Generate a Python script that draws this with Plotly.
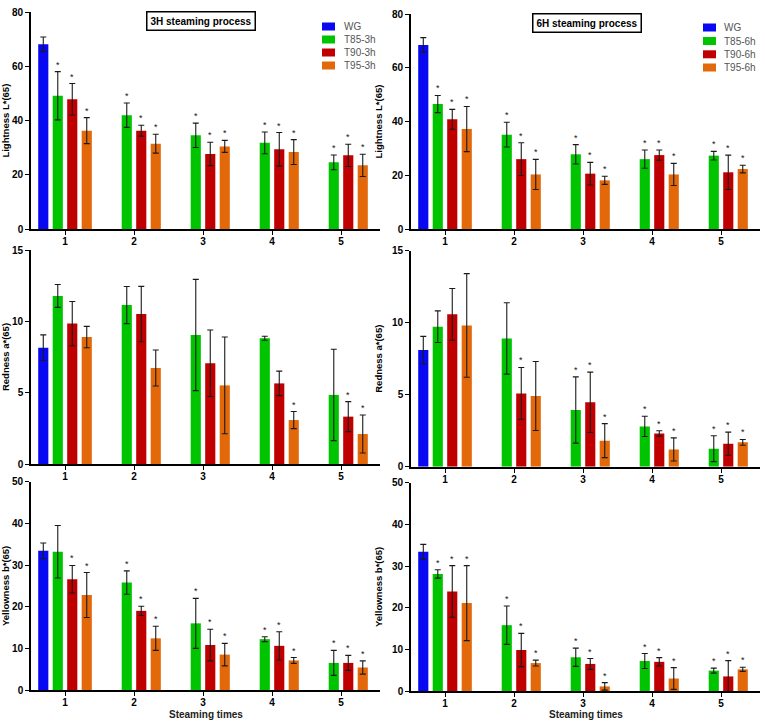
import plotly.graph_objects as go

# ---------------- data ----------------
steaming_times = [1, 2, 3, 4, 5]
tick_labels = ["1", "2", "3", "4", "5"]

# WG (raw material) only at steaming time 1
wg_L = [68.2]
wg_L_err = [2.7]
wg_L6 = [68.5]
wg_L6_err = [2.7]
wg_a = [8.15]
wg_a_err = [0.9]
wg_a6 = [8.1]
wg_a6_err = [0.95]
wg_b = [33.4]
wg_b_err = [1.9]
wg_b6 = [33.4]
wg_b6_err = [1.8]

# 3H Lightness L*
L3_T85 = [49.2, 42.0, 34.6, 31.8, 24.6]
L3_T85_err = [8.9, 4.5, 4.5, 4.0, 2.7]
L3_T90 = [47.9, 36.3, 27.7, 29.4, 27.2]
L3_T90_err = [5.8, 2.0, 4.3, 6.2, 4.1]
L3_T95 = [36.3, 31.5, 30.5, 28.4, 23.5]
L3_T95_err = [4.8, 3.5, 2.2, 4.6, 4.1]
L3_T85_sig = [1, 1, 1, 1, 1]
L3_T90_sig = [1, 1, 1, 1, 1]
L3_T95_sig = [1, 1, 1, 1, 1]

# 6H Lightness L*
L6_T85 = [46.5, 35.1, 27.8, 26.0, 27.3]
L6_T85_err = [3.2, 4.6, 3.6, 3.4, 1.6]
L6_T90 = [40.8, 26.0, 20.6, 27.5, 21.1]
L6_T90_err = [3.7, 6.1, 4.2, 1.9, 6.4]
L6_T95 = [37.2, 20.3, 18.1, 20.3, 22.3]
L6_T95_err = [8.4, 5.6, 1.5, 4.1, 1.4]
L6_T85_sig = [1, 1, 1, 1, 1]
L6_T90_sig = [1, 1, 1, 1, 1]
L6_T95_sig = [1, 1, 1, 1, 1]

# 3H Redness a*
a3_T85 = [11.78, 11.14, 9.04, 8.81, 4.84]
a3_T85_err = [0.8, 1.3, 3.9, 0.14, 3.2]
a3_T90 = [9.84, 10.51, 7.06, 5.65, 3.32]
a3_T90_err = [1.55, 1.94, 2.33, 0.86, 1.05]
a3_T95 = [8.9, 6.73, 5.51, 3.08, 2.1]
a3_T95_err = [0.75, 1.26, 3.39, 0.6, 1.33]
a3_T85_sig = [0, 0, 0, 0, 0]
a3_T90_sig = [0, 0, 0, 0, 1]
a3_T95_sig = [0, 0, 0, 1, 1]

# 6H Redness a*
a6_T85 = [9.72, 8.91, 3.94, 2.8, 1.25]
a6_T85_err = [1.1, 2.48, 2.3, 0.7, 0.9]
a6_T90 = [10.58, 5.09, 4.47, 2.31, 1.6]
a6_T90_err = [1.8, 1.8, 2.1, 0.19, 0.8]
a6_T95 = [9.81, 4.91, 1.81, 1.2, 1.69]
a6_T95_err = [3.6, 2.4, 1.18, 0.8, 0.2]
a6_T85_sig = [0, 0, 1, 1, 1]
a6_T90_sig = [0, 1, 1, 1, 1]
a6_T95_sig = [0, 0, 1, 1, 1]

# 3H Yellowness b*
b3_T85 = [33.2, 25.8, 16.0, 12.2, 6.5]
b3_T85_err = [6.3, 2.8, 6.0, 0.6, 3.0]
b3_T90 = [26.6, 19.0, 10.8, 10.6, 6.5]
b3_T90_err = [3.3, 1.1, 3.8, 3.4, 1.8]
b3_T95 = [22.8, 12.4, 8.5, 7.1, 5.4]
b3_T95_err = [5.4, 2.9, 2.7, 0.7, 1.6]
b3_T85_sig = [0, 1, 1, 1, 1]
b3_T90_sig = [1, 1, 1, 1, 1]
b3_T95_sig = [1, 1, 1, 1, 1]

# 6H Yellowness b*
b6_T85 = [28.1, 15.8, 8.1, 7.2, 4.9]
b6_T85_err = [1.0, 4.6, 2.2, 1.8, 0.6]
b6_T90 = [23.9, 9.84, 6.5, 7.0, 3.5]
b6_T90_err = [6.2, 4.0, 1.3, 1.0, 3.8]
b6_T95 = [21.1, 6.7, 1.1, 3.0, 5.2]
b6_T95_err = [9.0, 0.7, 0.9, 2.6, 0.5]
b6_T85_sig = [1, 1, 1, 1, 1]
b6_T90_sig = [1, 1, 1, 1, 1]
b6_T95_sig = [1, 1, 1, 1, 1]

panel_titles = ["3H steaming process", "6H steaming process"]
y_titles = ["Lightness L*(65)", "Redness a*(65)", "Yellowness b*(65)"]
y_ranges = [80, 15, 50]
y_dticks = [20, 5, 10]
x_title = "Steaming times"
names_3h = ["WG", "T85-3h", "T90-3h", "T95-3h"]
names_6h = ["WG", "T85-6h", "T90-6h", "T95-6h"]

# ---------------- styling ----------------
COLORS = ["#0808F2", "#00C400", "#C00000", "#E2680A"]
FONT = "Arial, Liberation Sans, sans-serif"
BARGAP = 0.16
BARGROUPGAP = 0.3
W, H = 765, 723

x_domains = [[31 / W, 380 / W], [411 / W, 760 / W]]
y_domains = [
    [[1 - 229 / H, 1 - 12.3 / H], [1 - 229 / H, 1 - 14 / H]],
    [[1 - 464 / H, 1 - 250 / H], [1 - 466.7 / H, 1 - 250.7 / H]],
    [[1 - 690 / H, 1 - 481.7 / H], [1 - 691 / H, 1 - 482.7 / H]],
]

panels = [
    (0, 0, wg_L, wg_L_err, [(L3_T85, L3_T85_err, L3_T85_sig), (L3_T90, L3_T90_err, L3_T90_sig), (L3_T95, L3_T95_err, L3_T95_sig)]),
    (0, 1, wg_L6, wg_L6_err, [(L6_T85, L6_T85_err, L6_T85_sig), (L6_T90, L6_T90_err, L6_T90_sig), (L6_T95, L6_T95_err, L6_T95_sig)]),
    (1, 0, wg_a, wg_a_err, [(a3_T85, a3_T85_err, a3_T85_sig), (a3_T90, a3_T90_err, a3_T90_sig), (a3_T95, a3_T95_err, a3_T95_sig)]),
    (1, 1, wg_a6, wg_a6_err, [(a6_T85, a6_T85_err, a6_T85_sig), (a6_T90, a6_T90_err, a6_T90_sig), (a6_T95, a6_T95_err, a6_T95_sig)]),
    (2, 0, wg_b, wg_b_err, [(b3_T85, b3_T85_err, b3_T85_sig), (b3_T90, b3_T90_err, b3_T90_sig), (b3_T95, b3_T95_err, b3_T95_sig)]),
    (2, 1, wg_b6, wg_b6_err, [(b6_T85, b6_T85_err, b6_T85_sig), (b6_T90, b6_T90_err, b6_T90_sig), (b6_T95, b6_T95_err, b6_T95_sig)]),
]

fig = go.Figure()
annotations = []
shapes = []
layout_axes = {}
slot = (1 - BARGAP) / 4

for idx, (r, c, wg, wg_err, series) in enumerate(panels):
    n = idx + 1
    xa = "x" if n == 1 else f"x{n}"
    ya = "y" if n == 1 else f"y{n}"
    names = names_3h if c == 0 else names_6h

    err_style = dict(type="data", visible=True, color="#1a1a1a", thickness=1.1, width=3)

    fig.add_trace(go.Bar(
        x=steaming_times[:len(wg)], y=wg, name=names[0],
        error_y=dict(array=wg_err, **err_style),
        marker=dict(color=COLORS[0], line=dict(width=0)),
        xaxis=xa, yaxis=ya, showlegend=False, offsetgroup="g0",
    ))
    for k, (vals, errs, sig) in enumerate(series):
        fig.add_trace(go.Bar(
            x=steaming_times, y=vals, name=names[k + 1],
            error_y=dict(array=errs, **err_style),
            marker=dict(color=COLORS[k + 1], line=dict(width=0)),
            xaxis=xa, yaxis=ya, showlegend=False, offsetgroup=f"g{k + 1}",
        ))
        # significance asterisks above error bars
        for xi, v, e, s in zip(steaming_times, vals, errs, sig):
            if s:
                annotations.append(dict(
                    x=xi + (k + 1 - 1.5) * slot, y=v + e, xref=xa, yref=ya,
                    text="*", showarrow=False, yanchor="bottom", xanchor="center",
                    yshift=0, font=dict(family=FONT, size=9, color="#111"),
                ))

    axis_common = dict(
        showline=True, linecolor="black", linewidth=1.6, mirror=False,
        showgrid=False, zeroline=False, ticks="outside", ticklen=4,
        tickwidth=1.4, tickcolor="black",
        tickfont=dict(family=FONT, size=10, color="black", weight="bold"),
        automargin=False,
    )
    xkey = "xaxis" if n == 1 else f"xaxis{n}"
    ykey = "yaxis" if n == 1 else f"yaxis{n}"
    layout_axes[xkey] = dict(
        axis_common, domain=x_domains[c], anchor=ya, range=[0.507, 5.565],
        tickmode="array", tickvals=steaming_times, ticktext=tick_labels,
        ticklabelstandoff=-2,
    )
    layout_axes[ykey] = dict(
        axis_common, domain=y_domains[r][c], anchor=xa,
        range=[0, y_ranges[r]], dtick=y_dticks[r], tick0=0,
        title=dict(text=y_titles[r],
                   font=dict(family=FONT, size=9.5, color="black", weight="bold"),
                   standoff=8),
    )
    if r == 2:
        annotations.append(dict(
            x=0.5, y=1 - 714.5 / H, xref=f"{xa} domain", yref="paper",
            text=x_title, showarrow=False, xanchor="center", yanchor="middle",
            font=dict(family=FONT, size=10, color="#222", weight="bold"),
        ))

# panel title boxes
for c, t in enumerate(panel_titles):
    annotations.append(dict(
        x=[201 / W, 587 / W][c], y=[1 - 20.5 / H, 1 - 23 / H][c], xref="paper", yref="paper",
        text=t, showarrow=False, xanchor="center", yanchor="middle",
        font=dict(family=FONT, size=10, color="black", weight="bold"),
        bordercolor="black", borderwidth=1.5, borderpad=3, bgcolor="white",
    ))

# legends (one per column)
legend_sym_x = [(322, 335), (703, 716)]
legend_txt_x = [342, 722]
legend_row_y = [[26.5, 39.5, 52.5, 65.5], [27.5, 41, 54.3, 67.5]]
for c, names in enumerate([names_3h, names_6h]):
    for k, nm in enumerate(names):
        yc = legend_row_y[c][k]
        shapes.append(dict(
            type="rect", xref="paper", yref="paper",
            x0=legend_sym_x[c][0] / W, x1=legend_sym_x[c][1] / W,
            y0=1 - (yc + 4) / H, y1=1 - (yc - 4) / H,
            fillcolor=COLORS[k], line=dict(width=0),
        ))
        annotations.append(dict(
            x=legend_txt_x[c] / W, y=1 - yc / H, xref="paper", yref="paper",
            text=nm, showarrow=False, xanchor="left", yanchor="middle",
            font=dict(family=FONT, size=10, color="#555"),
        ))

fig.update_layout(
    width=W, height=H,
    margin=dict(l=0, r=0, t=0, b=0),
    paper_bgcolor="white", plot_bgcolor="white",
    barmode="group", bargap=BARGAP, bargroupgap=BARGROUPGAP,
    annotations=annotations, shapes=shapes,
    showlegend=False,
    **layout_axes,
)

fig.write_html(
    "out.html",
    config={"displayModeBar": False},
    post_script="document.body.style.margin='0px';document.body.style.overflow='hidden';",
)
